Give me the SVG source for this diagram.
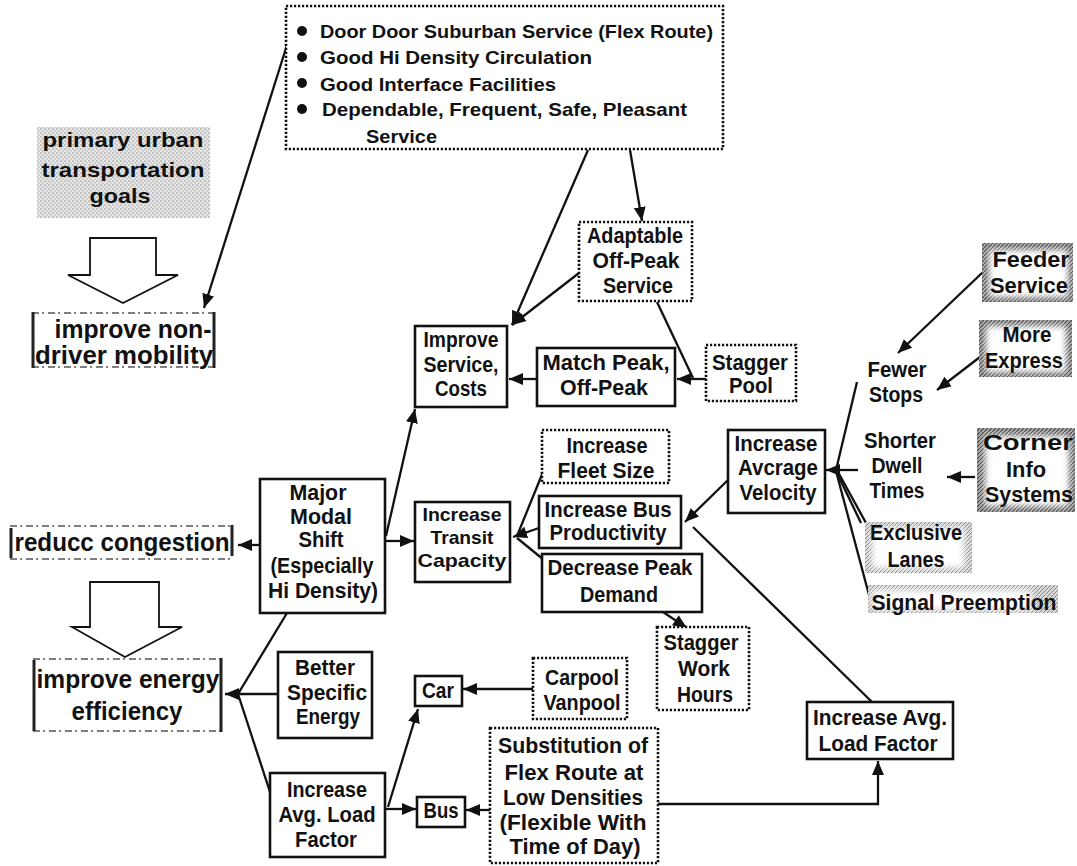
<svg xmlns="http://www.w3.org/2000/svg" width="1077" height="866" viewBox="0 0 1077 866">
  <defs>
    <style>
      text { font-family: "Liberation Sans Narrow", "Liberation Sans", Arial, sans-serif; font-weight: bold; fill: #111; text-anchor: middle; }
      .t18 { font-size: 19px; }
      .t21 { font-size: 22px; }
      .t20 { font-size: 21px; }
      .t19 { font-size: 19px; }
      .t24 { font-size: 25px; }
      .st { text-anchor: start; }
      .box { fill: #fff; stroke: #111; stroke-width: 2.6; }
      .dot { fill: #fff; stroke: #111; stroke-width: 2.6; stroke-dasharray: 2.2 1.8; }
      .ln { fill: none; stroke: #111; stroke-width: 2.3; }
      .arr { fill: none; stroke: #111; stroke-width: 2.3; marker-end: url(#ah); }
      .block { fill: #fff; stroke: #111; stroke-width: 1.8; stroke-linejoin: miter; }
      .edge { fill: none; stroke: #222; stroke-width: 3; }
      .edge2 { fill: none; stroke: #555; stroke-width: 1.6; stroke-dasharray: 7 3 2 4; }
    </style>
    <marker id="ah" viewBox="0 0 14 12" refX="14" refY="6" markerWidth="14" markerHeight="12" markerUnits="userSpaceOnUse" orient="auto">
      <path d="M0,0 L14,6 L0,12 z" fill="#111"/>
    </marker>
    <pattern id="stipple" width="4" height="4" patternUnits="userSpaceOnUse">
      <rect width="4" height="4" fill="#e6e6e6"/>
      <circle cx="1" cy="1" r="0.8" fill="#9a9a9a"/>
      <circle cx="3" cy="3" r="0.8" fill="#b0b0b0"/>
    </pattern>
    <pattern id="hatch" width="4" height="4" patternUnits="userSpaceOnUse">
      <rect width="4" height="4" fill="#a8a8a8"/>
      <path d="M-1,5 L5,-1" stroke="#444" stroke-width="1.2"/>
    </pattern>
    <pattern id="hatchLight" width="4" height="4" patternUnits="userSpaceOnUse">
      <rect width="4" height="4" fill="#d8d8d8"/>
      <path d="M-1,5 L5,-1" stroke="#888" stroke-width="1"/>
    </pattern>
    <filter id="soft" x="-20%" y="-20%" width="140%" height="140%">
      <feGaussianBlur stdDeviation="3"/>
    </filter>
  </defs>

  <rect width="1077" height="866" fill="#fff"/>

  <!-- connectors -->
  <g id="connectors">
    <path class="arr" d="M287,45 L204,308"/>
    <path class="arr" d="M588,150 L512,325"/>
    <path class="arr" d="M579,273 L512,325"/>
    <path class="arr" d="M630,150 L642,221"/>
    <path class="ln" d="M657,302 L693,378"/>
    <path class="arr" d="M706,379 L677,379"/>
    <path class="arr" d="M537,379 L509,379"/>
    <path class="arr" d="M386,536 L415,409"/>
    <path class="arr" d="M385,541 L414,541"/>
    <path class="arr" d="M260,545 L238,545"/>
    <path class="ln" d="M287,613 L238,694"/>
    <path class="arr" d="M278,694 L225,694"/>
    <path class="ln" d="M271,795 L238,694"/>
    <path class="ln" d="M543,472 L517,536"/>
    <path class="arr" d="M539,528 L513,537"/>
    <path class="ln" d="M544,560 L517,538"/>
    <path class="arr" d="M728,480 L685,522"/>
    <path class="ln" d="M872,702 L693,527"/>
    <path class="arr" d="M663,612 L687,628"/>
    <path class="ln" d="M857,382 L836,470"/>
    <path class="arr" d="M858,470 L826,470"/>
    <path class="ln" d="M861,523 L836,471"/>
    <path class="ln" d="M866,523 L838,472"/>
    <path class="ln" d="M869,595 L836,471"/>
    <path class="arr" d="M983,272 L898,353"/>
    <path class="arr" d="M980,357 L937,390"/>
    <path class="arr" d="M975,477 L947,477"/>
    <path class="arr" d="M533,689 L463,689"/>
    <path class="arr" d="M388,807 L418,709"/>
    <path class="arr" d="M385,809 L416,809"/>
    <path class="arr" d="M490,810 L466,810"/>
    <path class="arr" d="M658,804 L878,804 L878,761"/>
  </g>

  <!-- top service requirements list -->
  <g id="service-list">
    <rect class="dot" x="286" y="6" width="437" height="143"/>
    <circle cx="302" cy="31" r="5" fill="#111"/>
    <circle cx="302" cy="57" r="5" fill="#111"/>
    <circle cx="302" cy="83" r="5" fill="#111"/>
    <circle cx="302" cy="109" r="5" fill="#111"/>
    <text class="t18 st" x="320" y="38" textLength="393" lengthAdjust="spacingAndGlyphs">Door Door Suburban Service (Flex Route)</text>
    <text class="t18 st" x="320" y="64" textLength="272" lengthAdjust="spacingAndGlyphs">Good Hi Density Circulation</text>
    <text class="t18 st" x="320" y="91" textLength="236" lengthAdjust="spacingAndGlyphs">Good Interface Facilities</text>
    <text class="t18 st" x="322" y="116" textLength="365" lengthAdjust="spacingAndGlyphs">Dependable, Frequent, Safe, Pleasant</text>
    <text class="t18 st" x="366" y="143" textLength="71" lengthAdjust="spacingAndGlyphs">Service</text>
  </g>

  <!-- goals -->
  <g id="goals">
    <rect x="37" y="127" width="173" height="91" fill="url(#stipple)"/>
    <text class="t20" x="123" y="147" textLength="161" lengthAdjust="spacingAndGlyphs">primary urban</text>
    <text class="t20" x="123" y="177" textLength="163" lengthAdjust="spacingAndGlyphs">transportation</text>
    <text class="t20" x="120" y="203" textLength="61" lengthAdjust="spacingAndGlyphs">goals</text>
  </g>

  <g id="goal-arrow-1">
    <polygon class="block" points="90,238 156,238 156,275 178,275 123,303 68,275 90,275"/>
  </g>

  <g id="non-driver-mobility">
    <rect x="32" y="312" width="183" height="56" fill="#fff"/>
    <path class="edge2" d="M32,313 H215 M32,367 H215"/>
    <path class="edge" d="M33,312 V368 M214,312 V368"/>
    <text class="t24" x="133" y="338" textLength="157" lengthAdjust="spacingAndGlyphs">improve non-</text>
    <text class="t24" x="124" y="364" textLength="178" lengthAdjust="spacingAndGlyphs">driver mobility</text>
  </g>

  <g id="reduce-congestion">
    <rect x="10" y="525" width="223" height="35" fill="#fff"/>
    <path class="edge2" d="M10,526 H233 M10,559 H233"/>
    <path class="edge" d="M11,528 V558 M232,525 V556"/>
    <text class="t24" x="122" y="551" textLength="215" lengthAdjust="spacingAndGlyphs">reducc congestion</text>
  </g>

  <g id="goal-arrow-2">
    <polygon class="block" points="90,582 159,582 159,627 182,627 125,657 72,627 90,627"/>
  </g>

  <g id="energy-efficiency">
    <rect x="33" y="658" width="189" height="74" fill="#fff"/>
    <path class="edge2" d="M33,659 H222 M33,731 H222"/>
    <path class="edge" d="M34,660 V731 M221,658 V732"/>
    <text class="t24" x="128" y="688" textLength="183" lengthAdjust="spacingAndGlyphs">improve energy</text>
    <text class="t24" x="127" y="720" textLength="111" lengthAdjust="spacingAndGlyphs">efficiency</text>
  </g>

  <g id="adaptable-off-peak">
    <rect class="dot" x="579" y="222" width="113" height="79"/>
    <text class="t21" x="635" y="243" textLength="96" lengthAdjust="spacingAndGlyphs">Adaptable</text>
    <text class="t21" x="636" y="268" textLength="87" lengthAdjust="spacingAndGlyphs">Off-Peak</text>
    <text class="t21" x="638" y="293" textLength="70" lengthAdjust="spacingAndGlyphs">Service</text>
  </g>

  <g id="improve-service">
    <rect class="box" x="415" y="326" width="92" height="81"/>
    <text class="t21" x="461" y="347" textLength="75" lengthAdjust="spacingAndGlyphs">Improve</text>
    <text class="t21" x="461" y="372" textLength="75" lengthAdjust="spacingAndGlyphs">Service,</text>
    <text class="t21" x="461" y="396" textLength="52" lengthAdjust="spacingAndGlyphs">Costs</text>
  </g>

  <g id="match-peak">
    <rect class="box" x="537" y="348" width="138" height="58"/>
    <text class="t21" x="606" y="370" textLength="127" lengthAdjust="spacingAndGlyphs">Match Peak,</text>
    <text class="t21" x="604" y="395" textLength="88" lengthAdjust="spacingAndGlyphs">Off-Peak</text>
  </g>

  <g id="stagger-pool">
    <rect class="dot" x="706" y="345" width="90" height="56"/>
    <text class="t21" x="750" y="370" textLength="76" lengthAdjust="spacingAndGlyphs">Stagger</text>
    <text class="t21" x="751" y="393" textLength="44" lengthAdjust="spacingAndGlyphs">Pool</text>
  </g>

  <g id="feeder-service">
    <rect x="982" y="243" width="91" height="59" fill="url(#hatch)"/>
    <rect x="989" y="250" width="79" height="47" fill="#fff" filter="url(#soft)"/>
    <text class="t21" x="1031" y="267" textLength="77" lengthAdjust="spacingAndGlyphs">Feeder</text>
    <text class="t21" x="1029" y="293" textLength="78" lengthAdjust="spacingAndGlyphs">Service</text>
  </g>

  <g id="more-express">
    <rect x="979" y="320" width="93" height="57" fill="url(#hatch)"/>
    <rect x="986" y="326" width="80" height="46" fill="#fff" filter="url(#soft)"/>
    <text class="t21" x="1027" y="342" textLength="49" lengthAdjust="spacingAndGlyphs">More</text>
    <text class="t21" x="1024" y="368" textLength="78" lengthAdjust="spacingAndGlyphs">Express</text>
  </g>

  <g id="fewer-stops">
    <text class="t21" x="897" y="377" textLength="59" lengthAdjust="spacingAndGlyphs">Fewer</text>
    <text class="t21" x="896" y="402" textLength="54" lengthAdjust="spacingAndGlyphs">Stops</text>
  </g>

  <g id="shorter-dwell">
    <text class="t21" x="900" y="448" textLength="72" lengthAdjust="spacingAndGlyphs">Shorter</text>
    <text class="t21" x="897" y="473" textLength="51" lengthAdjust="spacingAndGlyphs">Dwell</text>
    <text class="t21" x="897" y="498" textLength="55" lengthAdjust="spacingAndGlyphs">Times</text>
  </g>

  <g id="corner-info">
    <rect x="977" y="428" width="98" height="84" fill="url(#hatch)"/>
    <rect x="985" y="436" width="84" height="70" fill="#fff" filter="url(#soft)"/>
    <text class="t21" x="1028" y="450" textLength="90" lengthAdjust="spacingAndGlyphs">Corner</text>
    <text class="t21" x="1026" y="477" textLength="40" lengthAdjust="spacingAndGlyphs">Info</text>
    <text class="t21" x="1029" y="502" textLength="88" lengthAdjust="spacingAndGlyphs">Systems</text>
  </g>

  <g id="exclusive-lanes">
    <rect x="865" y="522" width="107" height="51" fill="url(#hatchLight)"/>
    <rect x="872" y="528" width="92" height="40" fill="#fff" filter="url(#soft)"/>
    <text class="t21" x="916" y="540" textLength="92" lengthAdjust="spacingAndGlyphs">Exclusive</text>
    <text class="t21" x="916" y="567" textLength="57" lengthAdjust="spacingAndGlyphs">Lanes</text>
  </g>

  <g id="signal-preemption">
    <rect x="868" y="585" width="190" height="28" fill="url(#hatchLight)"/>
    <rect x="872" y="590" width="160" height="20" fill="#fff" filter="url(#soft)"/>
    <text class="t21" x="964" y="610" textLength="185" lengthAdjust="spacingAndGlyphs">Signal Preemption</text>
  </g>

  <g id="average-velocity">
    <rect class="box" x="728" y="430" width="97" height="83"/>
    <text class="t21" x="776" y="451" textLength="83" lengthAdjust="spacingAndGlyphs">Increase</text>
    <text class="t21" x="778" y="475" textLength="80" lengthAdjust="spacingAndGlyphs">Avcrage</text>
    <text class="t21" x="778" y="500" textLength="77" lengthAdjust="spacingAndGlyphs">Velocity</text>
  </g>

  <g id="fleet-size">
    <rect class="dot" x="542" y="430" width="127" height="53"/>
    <text class="t21" x="607" y="453" textLength="81" lengthAdjust="spacingAndGlyphs">Increase</text>
    <text class="t21" x="606" y="478" textLength="97" lengthAdjust="spacingAndGlyphs">Fleet Size</text>
  </g>

  <g id="bus-productivity">
    <rect class="box" x="539" y="496" width="142" height="52"/>
    <text class="t21" x="608" y="517" textLength="127" lengthAdjust="spacingAndGlyphs">Increase Bus</text>
    <text class="t21" x="608" y="540" textLength="117" lengthAdjust="spacingAndGlyphs">Productivity</text>
  </g>

  <g id="peak-demand">
    <rect class="box" x="542" y="554" width="160" height="58"/>
    <text class="t21" x="620" y="575" textLength="145" lengthAdjust="spacingAndGlyphs">Decrease Peak</text>
    <text class="t21" x="619" y="602" textLength="78" lengthAdjust="spacingAndGlyphs">Demand</text>
  </g>

  <g id="transit-capacity">
    <rect class="box" x="415" y="502" width="95" height="80"/>
    <text class="t19" x="462" y="521" textLength="79" lengthAdjust="spacingAndGlyphs">Increase</text>
    <text class="t19" x="462" y="544" textLength="63" lengthAdjust="spacingAndGlyphs">Transit</text>
    <text class="t19" x="462" y="567" textLength="89" lengthAdjust="spacingAndGlyphs">Capacity</text>
  </g>

  <g id="stagger-work-hours">
    <rect class="dot" x="657" y="627" width="92" height="83"/>
    <text class="t21" x="701" y="650" textLength="75" lengthAdjust="spacingAndGlyphs">Stagger</text>
    <text class="t21" x="704" y="676" textLength="52" lengthAdjust="spacingAndGlyphs">Work</text>
    <text class="t21" x="705" y="702" textLength="56" lengthAdjust="spacingAndGlyphs">Hours</text>
  </g>

  <g id="car">
    <rect class="box" x="415" y="676" width="47" height="30"/>
    <text class="t21" x="438" y="698" textLength="32" lengthAdjust="spacingAndGlyphs">Car</text>
  </g>

  <g id="carpool-vanpool">
    <rect class="dot" x="533" y="658" width="94" height="61"/>
    <text class="t21" x="582" y="685" textLength="74" lengthAdjust="spacingAndGlyphs">Carpool</text>
    <text class="t21" x="582" y="710" textLength="77" lengthAdjust="spacingAndGlyphs">Vanpool</text>
  </g>

  <g id="bus">
    <rect class="box" x="417" y="797" width="48" height="30"/>
    <text class="t21" x="441" y="818" textLength="35" lengthAdjust="spacingAndGlyphs">Bus</text>
  </g>

  <g id="flex-route-substitution">
    <rect class="dot" x="490" y="728" width="168" height="135"/>
    <text class="t21" x="573" y="753" textLength="150" lengthAdjust="spacingAndGlyphs">Substitution of</text>
    <text class="t21" x="574" y="780" textLength="139" lengthAdjust="spacingAndGlyphs">Flex Route at</text>
    <text class="t21" x="573" y="805" textLength="140" lengthAdjust="spacingAndGlyphs">Low Densities</text>
    <text class="t21" x="573" y="830" textLength="147" lengthAdjust="spacingAndGlyphs">(Flexible With</text>
    <text class="t21" x="575" y="854" textLength="131" lengthAdjust="spacingAndGlyphs">Time of Day)</text>
  </g>

  <g id="load-factor-right">
    <rect class="box" x="807" y="702" width="146" height="57"/>
    <text class="t21" x="880" y="725" textLength="134" lengthAdjust="spacingAndGlyphs">Increase Avg.</text>
    <text class="t21" x="878" y="751" textLength="119" lengthAdjust="spacingAndGlyphs">Load Factor</text>
  </g>

  <g id="major-modal-shift">
    <rect class="box" x="260" y="479" width="125" height="134"/>
    <text class="t21" x="318" y="500" textLength="57" lengthAdjust="spacingAndGlyphs">Major</text>
    <text class="t21" x="321" y="524" textLength="62" lengthAdjust="spacingAndGlyphs">Modal</text>
    <text class="t21" x="321" y="547" textLength="45" lengthAdjust="spacingAndGlyphs">Shift</text>
    <text class="t21" x="322" y="573" textLength="103" lengthAdjust="spacingAndGlyphs">(Especially</text>
    <text class="t21" x="323" y="598" textLength="110" lengthAdjust="spacingAndGlyphs">Hi Density)</text>
  </g>

  <g id="specific-energy">
    <rect class="box" x="278" y="652" width="94" height="86"/>
    <text class="t21" x="325" y="675" textLength="60" lengthAdjust="spacingAndGlyphs">Better</text>
    <text class="t21" x="327" y="700" textLength="80" lengthAdjust="spacingAndGlyphs">Specific</text>
    <text class="t21" x="328" y="724" textLength="64" lengthAdjust="spacingAndGlyphs">Energy</text>
  </g>

  <g id="load-factor-left">
    <rect class="box" x="270" y="773" width="115" height="84"/>
    <text class="t21" x="327" y="797" textLength="80" lengthAdjust="spacingAndGlyphs">Increase</text>
    <text class="t21" x="327" y="822" textLength="97" lengthAdjust="spacingAndGlyphs">Avg. Load</text>
    <text class="t21" x="326" y="847" textLength="62" lengthAdjust="spacingAndGlyphs">Factor</text>
  </g>
</svg>
